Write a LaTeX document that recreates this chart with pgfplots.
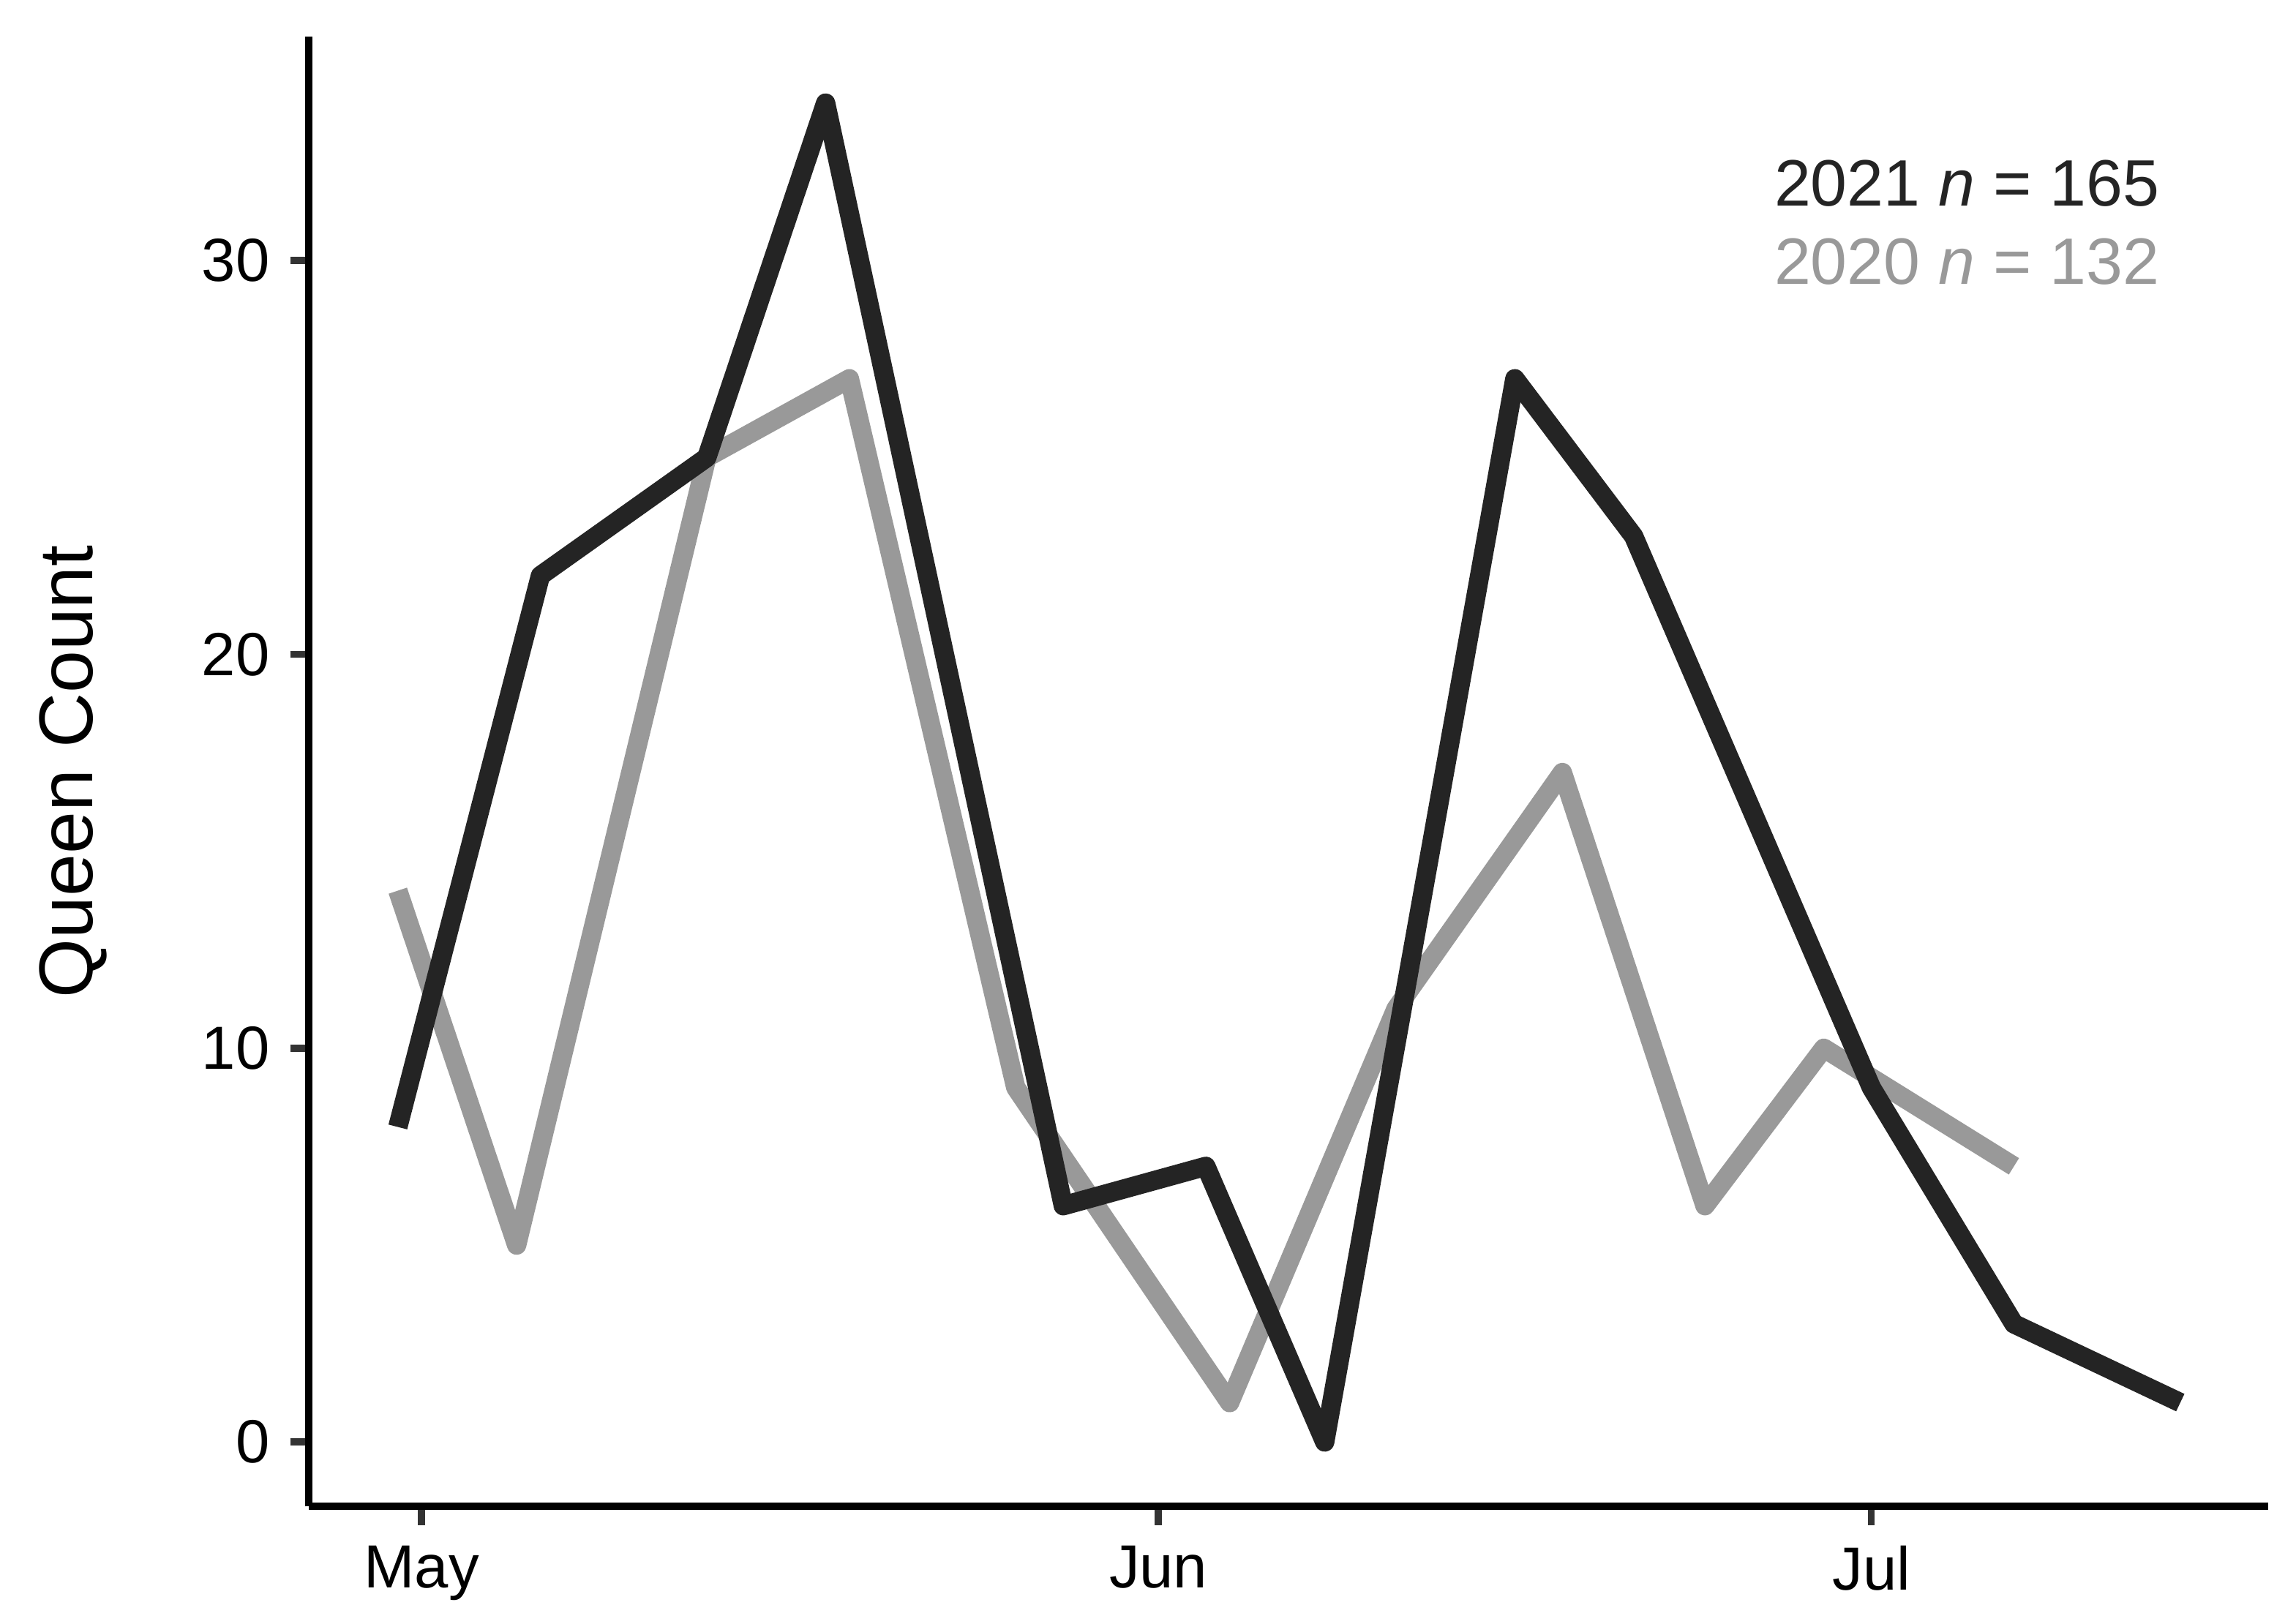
\documentclass[border=0pt]{standalone}
\usepackage{fontspec}
\setmainfont{Liberation Sans}
\usepackage{pgfplots}
\pgfplotsset{compat=1.18}
\definecolor{dark}{HTML}{242424}
\definecolor{grayline}{HTML}{999999}
\definecolor{tickc}{HTML}{333333}
\begin{document}
\begin{tikzpicture}
\path[use as bounding box] (-52.75pt,-20pt) rectangle (339.25pt,257.25pt);
\begin{axis}[
  at={(0,0)}, anchor=south west,
  scale only axis, width=334.5pt, height=251pt,
  xmin=-4.74, xmax=77.7, ymin=-1.636, ymax=35.69,
  axis lines*=left,
  axis line style={line width=1.25pt, black, -},
  xtick={0,31,61}, xticklabels={May,Jun,Jul},
  ytick={0,10,20,30},
  tick align=outside, major tick length=3.2pt,
  tick style={line width=1.2pt, color=tickc},
  tick label style={font=\fontsize{10.4}{12}\selectfont, black},
  /pgf/number format/assume math mode=true,
  ylabel={Queen Count},
  ylabel style={font=\fontsize{13}{15}\selectfont, at={(axis description cs:-0.1106,0.5)}, anchor=base},
]
\addplot[grayline, line width=3.3pt, line join=round, line cap=butt] coordinates {
  (-1,14) (4,5) (12,25) (18,27) (25,9) (34,1) (41,11) (48,17) (54,6) (59,10) (67,7)
};
\addplot[dark, line width=3.3pt, line join=round, line cap=butt] coordinates {
  (-1,8) (5,22) (12,25) (17,34) (27,6) (33,7) (38,0) (46,27) (51,23) (61,9) (67,3) (74,1)
};
\node[anchor=base west, text=dark, font=\fontsize{11.2}{13}\selectfont, inner sep=0pt] at (axis cs:56.87,31.38) {2021 \textit{n} = 165};
\node[anchor=base west, text=grayline, font=\fontsize{11.2}{13}\selectfont, inner sep=0pt] at (axis cs:56.87,29.41) {2020 \textit{n} = 132};
\end{axis}
\end{tikzpicture}
\end{document}
